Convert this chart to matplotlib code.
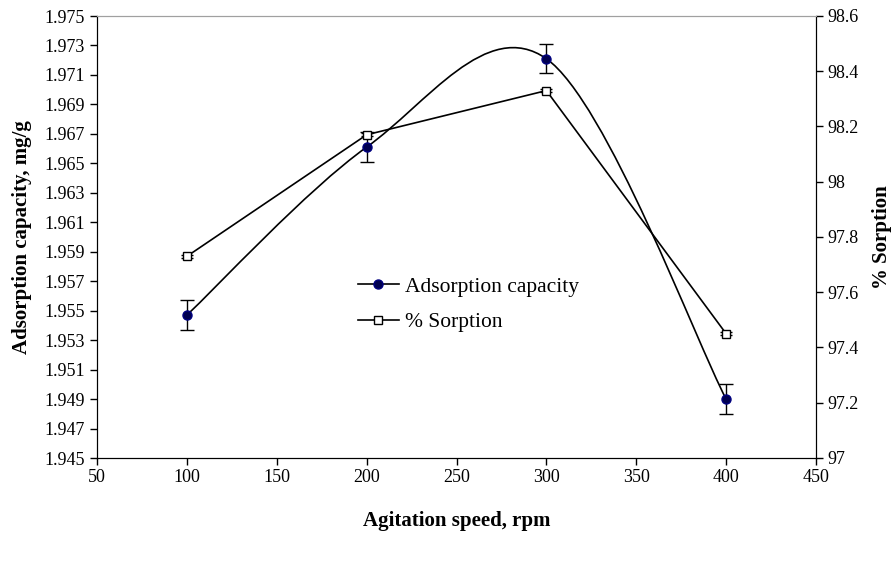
import matplotlib
matplotlib.use("Agg")
import matplotlib.pyplot as plt
from matplotlib.path import Path
from matplotlib.patches import PathPatch
from matplotlib.lines import Line2D

plt.rcParams['font.family'] = ['Liberation Serif', 'DejaVu Serif']

# Agitation speed (rpm)
speed = [100, 200, 300, 400]
# Adsorption capacity (mg/g) with error
capacity = [1.9547, 1.9661, 1.9721, 1.9490]
capacity_err = [0.0010, 0.0010, 0.0010, 0.0010]
# Percent sorption
sorption = [97.73, 98.17, 98.33, 97.45]
sorption_err = [0.005, 0.005, 0.005, 0.005]

W, H = 893, 563
fig = plt.figure(figsize=(W / 100, H / 100), dpi=100)
left, right, top, bottom = 97, 816, 16, 458
ax = fig.add_axes([left / W, 1 - bottom / H, (right - left) / W, (bottom - top) / H])
ax2 = ax.twinx()

ax.set_xlim(50, 450)
ax.set_ylim(1.945, 1.975)
ax2.set_ylim(97, 98.6)
ax.set_xticks(range(50, 451, 50))
ax.set_yticks([1.945 + 0.002 * i for i in range(16)])
ax.set_yticklabels([f"{1.945 + 0.002 * i:.3f}" for i in range(16)])
ax2.set_yticks([97 + 0.2 * i for i in range(9)])
ax2.set_yticklabels(["97", "97.2", "97.4", "97.6", "97.8", "98", "98.2", "98.4", "98.6"])

for a in (ax, ax2):
    a.tick_params(labelsize=13, length=5, width=1, color='black', direction='out')
    a.spines['top'].set_color('#a0a0a0')
    for s in ('left', 'right', 'bottom'):
        a.spines[s].set_color('black')
ax.tick_params(axis='x', pad=3)

# smoothed curve through capacity points (cardinal spline as cubic Bezier)
pts = list(zip(speed, capacity))
verts = [pts[0]]
codes = [Path.MOVETO]
n = len(pts)
for i in range(n - 1):
    p0 = pts[i - 1] if i > 0 else pts[i]
    p1 = pts[i]
    p2 = pts[i + 1]
    p3 = pts[i + 2] if i + 2 < n else pts[i + 1]
    c1 = (p1[0] + (p2[0] - p0[0]) / 6, p1[1] + (p2[1] - p0[1]) / 6)
    c2 = (p2[0] - (p3[0] - p1[0]) / 6, p2[1] - (p3[1] - p1[1]) / 6)
    verts += [c1, c2, p2]
    codes += [Path.CURVE4] * 3
ax.add_patch(PathPatch(Path(verts, codes), facecolor='none', edgecolor='black', lw=1.2, zorder=3))

ax.errorbar(speed, capacity, yerr=capacity_err, fmt='none', ecolor='black',
            elinewidth=1, capsize=5, capthick=1, zorder=4)
ax.plot(speed, capacity, linestyle='none', marker='o', markersize=6.5,
        markerfacecolor='#000050', markeredgecolor='#000080', zorder=5)

ax2.errorbar(speed, sorption, yerr=sorption_err, fmt='none', ecolor='black',
             elinewidth=1, capsize=4, capthick=1, zorder=4)
ax2.plot(speed, sorption, color='black', lw=1.2, marker='s', markersize=6,
         markerfacecolor='white', markeredgecolor='black', zorder=5)

ax.set_xlabel("Agitation speed, rpm", fontsize=15, fontweight='bold', labelpad=18)
ax.set_ylabel("Adsorption capacity, mg/g", fontsize=15, fontweight='bold', labelpad=9)
ax2.set_ylabel("% Sorption", fontsize=15, fontweight='bold', labelpad=9)

handles = [
    Line2D([], [], color='black', lw=1.2, marker='o', markersize=6.5,
           markerfacecolor='#000050', markeredgecolor='#000080'),
    Line2D([], [], color='black', lw=1.2, marker='s', markersize=6,
           markerfacecolor='white', markeredgecolor='black'),
]
fig.legend(handles, ["Adsorption capacity", "% Sorption"], loc='upper left',
           bbox_to_anchor=(347 / W, 1 - 266 / H), frameon=False, fontsize=15.5,
           handlelength=1.9, handletextpad=0.3, labelspacing=0.72, borderpad=0)

fig.savefig("out.png", dpi=100)
